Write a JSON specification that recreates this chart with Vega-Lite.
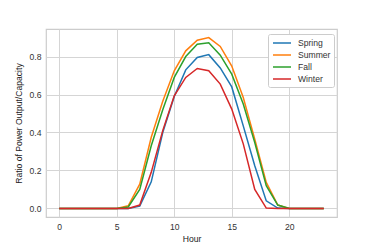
{
  "$schema": "https://vega.github.io/schema/vega-lite/v6.json",
  "autosize": "none",
  "padding": {"left": 46, "top": 29, "right": 37, "bottom": 32},
  "width": 291,
  "height": 188,
  "background": "white",
  "config": {
    "font": "Liberation Sans",
    "view": {"stroke": "#cccccc", "strokeWidth": 1.2},
    "axis": {
      "grid": true, "gridColor": "#d5d5d5", "gridWidth": 1,
      "domain": false, "ticks": false,
      "labelFontSize": 8.6, "labelColor": "#333333", "labelPadding": 5,
      "titleFontSize": 8.6, "titleColor": "#222222", "titleFontWeight": "normal"
    }
  },
  "data": {"values": [
    {"hour":0,"season":"Spring","v":0},{"hour":1,"season":"Spring","v":0},{"hour":2,"season":"Spring","v":0},{"hour":3,"season":"Spring","v":0},{"hour":4,"season":"Spring","v":0},{"hour":5,"season":"Spring","v":0},{"hour":6,"season":"Spring","v":0},{"hour":7,"season":"Spring","v":0.012},{"hour":8,"season":"Spring","v":0.14},{"hour":9,"season":"Spring","v":0.40},{"hour":10,"season":"Spring","v":0.59},{"hour":11,"season":"Spring","v":0.73},{"hour":12,"season":"Spring","v":0.795},{"hour":13,"season":"Spring","v":0.81},{"hour":14,"season":"Spring","v":0.74},{"hour":15,"season":"Spring","v":0.64},{"hour":16,"season":"Spring","v":0.435},{"hour":17,"season":"Spring","v":0.225},{"hour":18,"season":"Spring","v":0.04},{"hour":19,"season":"Spring","v":0.002},{"hour":20,"season":"Spring","v":0},{"hour":21,"season":"Spring","v":0},{"hour":22,"season":"Spring","v":0},{"hour":23,"season":"Spring","v":0},
    {"hour":0,"season":"Summer","v":0},{"hour":1,"season":"Summer","v":0},{"hour":2,"season":"Summer","v":0},{"hour":3,"season":"Summer","v":0},{"hour":4,"season":"Summer","v":0},{"hour":5,"season":"Summer","v":0},{"hour":6,"season":"Summer","v":0.014},{"hour":7,"season":"Summer","v":0.128},{"hour":8,"season":"Summer","v":0.375},{"hour":9,"season":"Summer","v":0.565},{"hour":10,"season":"Summer","v":0.725},{"hour":11,"season":"Summer","v":0.83},{"hour":12,"season":"Summer","v":0.886},{"hour":13,"season":"Summer","v":0.90},{"hour":14,"season":"Summer","v":0.853},{"hour":15,"season":"Summer","v":0.75},{"hour":16,"season":"Summer","v":0.584},{"hour":17,"season":"Summer","v":0.365},{"hour":18,"season":"Summer","v":0.137},{"hour":19,"season":"Summer","v":0.018},{"hour":20,"season":"Summer","v":0},{"hour":21,"season":"Summer","v":0},{"hour":22,"season":"Summer","v":0},{"hour":23,"season":"Summer","v":0},
    {"hour":0,"season":"Fall","v":0},{"hour":1,"season":"Fall","v":0},{"hour":2,"season":"Fall","v":0},{"hour":3,"season":"Fall","v":0},{"hour":4,"season":"Fall","v":0},{"hour":5,"season":"Fall","v":0},{"hour":6,"season":"Fall","v":0.008},{"hour":7,"season":"Fall","v":0.10},{"hour":8,"season":"Fall","v":0.33},{"hour":9,"season":"Fall","v":0.52},{"hour":10,"season":"Fall","v":0.69},{"hour":11,"season":"Fall","v":0.80},{"hour":12,"season":"Fall","v":0.865},{"hour":13,"season":"Fall","v":0.872},{"hour":14,"season":"Fall","v":0.807},{"hour":15,"season":"Fall","v":0.707},{"hour":16,"season":"Fall","v":0.55},{"hour":17,"season":"Fall","v":0.347},{"hour":18,"season":"Fall","v":0.12},{"hour":19,"season":"Fall","v":0.018},{"hour":20,"season":"Fall","v":0},{"hour":21,"season":"Fall","v":0},{"hour":22,"season":"Fall","v":0},{"hour":23,"season":"Fall","v":0},
    {"hour":0,"season":"Winter","v":0},{"hour":1,"season":"Winter","v":0},{"hour":2,"season":"Winter","v":0},{"hour":3,"season":"Winter","v":0},{"hour":4,"season":"Winter","v":0},{"hour":5,"season":"Winter","v":0},{"hour":6,"season":"Winter","v":0},{"hour":7,"season":"Winter","v":0.018},{"hour":8,"season":"Winter","v":0.19},{"hour":9,"season":"Winter","v":0.41},{"hour":10,"season":"Winter","v":0.593},{"hour":11,"season":"Winter","v":0.69},{"hour":12,"season":"Winter","v":0.737},{"hour":13,"season":"Winter","v":0.725},{"hour":14,"season":"Winter","v":0.655},{"hour":15,"season":"Winter","v":0.523},{"hour":16,"season":"Winter","v":0.34},{"hour":17,"season":"Winter","v":0.10},{"hour":18,"season":"Winter","v":0.002},{"hour":19,"season":"Winter","v":0},{"hour":20,"season":"Winter","v":0},{"hour":21,"season":"Winter","v":0},{"hour":22,"season":"Winter","v":0},{"hour":23,"season":"Winter","v":0}
  ]},
  "mark": {"type": "line", "strokeWidth": 1.5, "clip": true},
  "encoding": {
    "x": {"field": "hour", "type": "quantitative",
      "scale": {"domain": [-1.15, 24.15], "nice": false, "zero": false},
      "axis": {"values": [0, 5, 10, 15, 20], "title": "Hour", "titlePadding": 4}},
    "y": {"field": "v", "type": "quantitative",
      "scale": {"domain": [-0.045, 0.945], "nice": false, "zero": false},
      "axis": {"values": [0, 0.2, 0.4, 0.6, 0.8], "format": ".1f", "title": "Ratio of Power Output/Capacity", "titlePadding": 6}},
    "color": {"field": "season", "type": "nominal",
      "scale": {"domain": ["Spring", "Summer", "Fall", "Winter"], "range": ["#1f77b4", "#ff7f0e", "#2ca02c", "#d62728"]},
      "legend": {"title": null, "orient": "none", "legendX": 222, "legendY": 5,
        "symbolType": "M-1.8,0L1.8,0", "symbolSize": 100, "symbolStrokeWidth": 1.5,
        "symbolOffset": 5,
        "labelFontSize": 8.6, "labelColor": "#333333", "labelOffset": 10,
        "rowPadding": 1, "padding": 3,
        "strokeColor": "#cccccc", "fillColor": "white", "cornerRadius": 2}}
  }
}
